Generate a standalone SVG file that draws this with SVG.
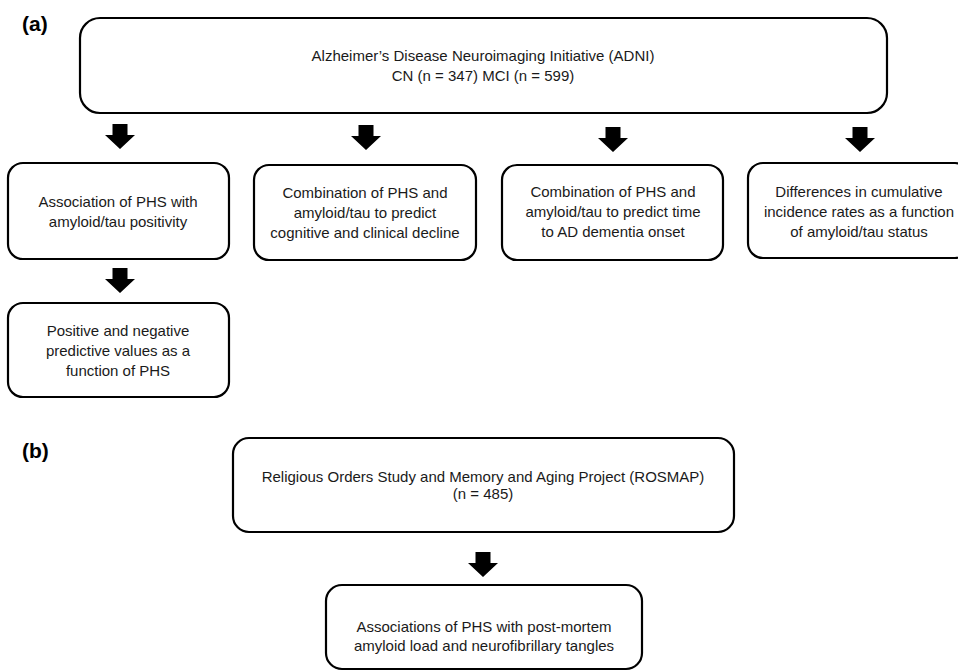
<svg xmlns="http://www.w3.org/2000/svg" xmlns:xlink="http://www.w3.org/1999/xlink" width="958" height="672" viewBox="0 0 958 672">
<style>
.box{fill:#fff;stroke:#000;stroke-width:2.2}
.t{font-family:"Liberation Sans",Arial,sans-serif;font-size:15px;fill:#1a1a1a;text-anchor:middle}
.lbl{font-family:"Liberation Sans",Arial,sans-serif;font-size:21px;font-weight:bold;fill:#000}
</style>
<defs>
<path id="arr" d="M-7.5,0 H7.5 V11 H15 L0,25 L-15,11 H-7.5 Z" fill="#000"/>
</defs>
<rect width="958" height="672" fill="#fff"/>
<text class="lbl" x="22" y="31">(a)</text>
<text class="lbl" x="22" y="458">(b)</text>
<g id="connectors">
<use xlink:href="#arr" x="120" y="124"/>
<use xlink:href="#arr" x="366" y="125"/>
<use xlink:href="#arr" x="613" y="127"/>
<use xlink:href="#arr" x="860" y="127"/>
<use xlink:href="#arr" x="120" y="268"/>
<use xlink:href="#arr" x="483" y="552"/>
</g>
<g id="adni">
<rect class="box" x="80" y="18" width="807" height="95" rx="20"/>
<text class="t" x="483" y="61">Alzheimer’s Disease Neuroimaging Initiative (ADNI)</text>
<text class="t" x="483" y="81">CN (n = 347) MCI (n = 599)</text>
</g>
<g id="assoc">
<rect class="box" x="8" y="163" width="221" height="96" rx="15"/>
<text class="t" x="118" y="207">Association of PHS with</text>
<text class="t" x="118" y="227">amyloid/tau positivity</text>
</g>
<g id="combo1">
<rect class="box" x="254" y="165" width="222" height="95" rx="15"/>
<text class="t" x="365" y="198">Combination of PHS and</text>
<text class="t" x="365" y="218">amyloid/tau to predict</text>
<text class="t" x="365" y="238">cognitive and clinical  decline</text>
</g>
<g id="combo2">
<rect class="box" x="502" y="165" width="221" height="95" rx="15"/>
<text class="t" x="613" y="197">Combination of PHS and</text>
<text class="t" x="613" y="217">amyloid/tau to predict time</text>
<text class="t" x="613" y="237">to AD dementia onset</text>
</g>
<g id="diff">
<rect class="box" x="748" y="163" width="222" height="95" rx="15"/>
<text class="t" x="859" y="197">Differences in cumulative</text>
<text class="t" x="859" y="217">incidence rates as a function</text>
<text class="t" x="859" y="237">of amyloid/tau status</text>
</g>
<g id="ppv">
<rect class="box" x="8" y="303" width="221" height="94" rx="15"/>
<text class="t" x="118" y="336">Positive and negative</text>
<text class="t" x="118" y="356">predictive values as a</text>
<text class="t" x="118" y="376">function of PHS</text>
</g>
<g id="rosmap">
<rect class="box" x="233" y="438" width="501" height="94" rx="16"/>
<text class="t" x="483" y="482">Religious Orders Study and Memory and Aging Project (ROSMAP)</text>
<text class="t" x="483" y="499">(n = 485)</text>
</g>
<g id="postmortem">
<rect class="box" x="326" y="585" width="316" height="84" rx="16"/>
<text class="t" x="484" y="632">Associations of PHS with post-mortem</text>
<text class="t" x="484" y="651">amyloid load and neurofibrillary tangles</text>
</g>
</svg>
